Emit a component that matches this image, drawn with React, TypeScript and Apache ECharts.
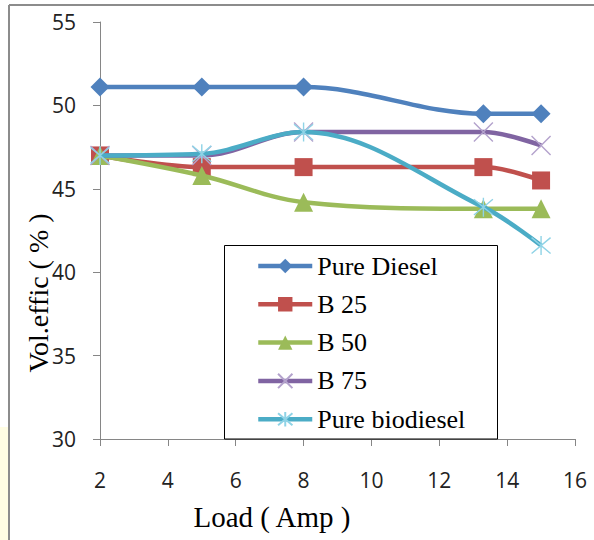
import React, { useEffect, useRef } from "react";
import * as echarts from "echarts";

const loadAmp = [2, 5, 8, 13.3, 15];
const pureDiesel = [51.1, 51.1, 51.1, 49.5, 49.5];
const b25 = [47.0, 46.3, 46.3, 46.3, 45.5];
const b50 = [47.0, 45.8, 44.2, 43.8, 43.8];
const b75 = [47.0, 47.0, 48.4, 48.4, 47.6];
const pureBiodiesel = [47.0, 47.1, 48.4, 43.9, 41.6];

const seriesNames = ["Pure Diesel", "B 25", "B 50", "B 75", "Pure biodiesel"];
const seriesValues = [pureDiesel, b25, b50, b75, pureBiodiesel];
const seriesColors = ["#4F81BD", "#C0504D", "#9BBB59", "#8064A2", "#4BACC6"];
const markerBorders = ["#4F81BD", "#C0504D", "#9BBB59", "#B3A2CC", "#8FD3E6"];
const symbols = [
  "diamond",
  "rect",
  "triangle",
  "path://M0,0L10,10M10,0L0,10",
  "path://M0,0L10,10M10,0L0,10M5,-1L5,11",
];
const symbolSizes = [19, 18, 19, 19, 19];

const SERIF = "'Liberation Serif', 'Times New Roman', Times, serif";
const SANS = "'Open Sans', 'DejaVu Sans', sans-serif";

export default function App() {
  const ref = useRef<HTMLDivElement>(null);

  useEffect(() => {
    document.body.style.margin = "0";
    const chart = echarts.init(ref.current!, undefined, { renderer: "svg" });
    const series = seriesNames.map((name, i) => {
      const isPath = symbols[i].startsWith("path://");
      return {
        name,
        type: "line",
        smooth: 0.35,
        data: loadAmp.map((x, j) => [x, seriesValues[i][j]]),
        symbol: symbols[i],
        symbolSize: symbolSizes[i],
        showSymbol: true,
        lineStyle: { color: seriesColors[i], width: 4.5 },
        itemStyle: isPath
          ? { color: seriesColors[i], borderColor: markerBorders[i], borderWidth: 1.4 }
          : { color: seriesColors[i], borderWidth: 0 },
        z: 2 + i * 0.01,
      };
    });

    chart.setOption({
      animation: false,
      backgroundColor: "#ffffff",
      grid: { left: 100, top: 22, right: 19, bottom: 101, containLabel: false },
      xAxis: {
        type: "value",
        min: 2,
        max: 16,
        interval: 2,
        axisLine: { show: true, lineStyle: { color: "#868686", width: 1 } },
        axisTick: { show: true, inside: false, length: 7, lineStyle: { color: "#868686" } },
        axisLabel: {
          margin: 30,
          fontFamily: SANS,
          fontSize: 21,
          color: "#222",
        },
        splitLine: { show: false },
      },
      yAxis: {
        type: "value",
        min: 30,
        max: 55,
        interval: 5,
        axisLine: { show: true, lineStyle: { color: "#868686", width: 1 } },
        axisTick: { show: true, inside: false, length: 7, lineStyle: { color: "#868686" } },
        axisLabel: {
          margin: 24,
          fontFamily: SANS,
          fontSize: 21,
          color: "#222",
        },
        splitLine: { show: false },
      },
      legend: {
        orient: "vertical",
        left: 256,
        top: 253,
        padding: 0,
        itemGap: 12.3,
        itemWidth: 54,
        itemHeight: 18,
        z: 5,
        data: seriesNames,
        lineStyle: { width: "inherit" },
        textStyle: {
          fontFamily: SERIF,
          fontSize: 26,
          lineHeight: 26,
          color: "#000",
        },
      },
      graphic: [
        {
          type: "rect",
          z: 0,
          shape: { x: 0, y: 427, width: 8, height: 113 },
          style: { fill: "#FFFDE3" },
        },
        {
          type: "line",
          z: 0,
          shape: { x1: 9, y1: 5, x2: 594, y2: 5 },
          style: { stroke: "#8C8C8C", lineWidth: 2 },
        },
        {
          type: "line",
          z: 0,
          shape: { x1: 9, y1: 5, x2: 9, y2: 540 },
          style: { stroke: "#8C8C8C", lineWidth: 2 },
        },
        {
          type: "rect",
          z: 1,
          shape: { x: 224.5, y: 245.5, width: 273, height: 193.5 },
          style: { fill: "#ffffff", stroke: "#000000", lineWidth: 1 },
        },
        {
          type: "text",
          z: 5,
          x: 272,
          y: 517,
          style: {
            text: "Load ( Amp )",
            fontFamily: SERIF,
            fontSize: 29,
            fill: "#000",
            align: "center",
            verticalAlign: "middle",
          },
        },
        {
          type: "text",
          z: 5,
          x: 38,
          y: 293,
          rotation: Math.PI / 2,
          style: {
            text: "Vol.effic ( % )",
            fontFamily: SERIF,
            fontSize: 28,
            fill: "#000",
            align: "center",
            verticalAlign: "middle",
          },
        },
      ],
      series,
    });
    return () => chart.dispose();
  }, []);

  return <div ref={ref} style={{ width: 594, height: 540 }} />;
}
